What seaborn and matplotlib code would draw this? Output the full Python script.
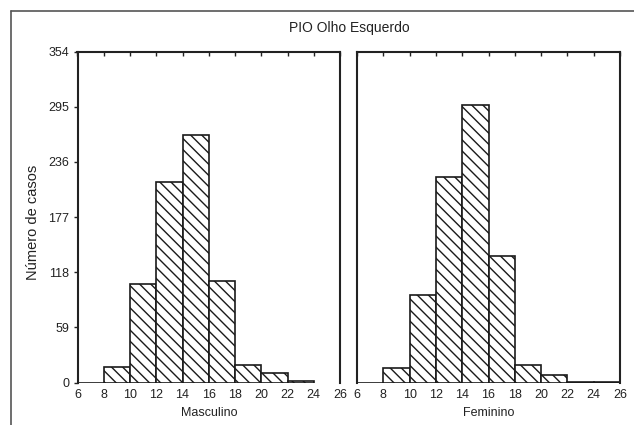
import numpy as np
import pandas as pd
import matplotlib
matplotlib.use("Agg")
import matplotlib.pyplot as plt
from matplotlib.lines import Line2D
import seaborn as sns

# ---- data ----
title = "PIO Olho Esquerdo"
ylabel = "Número de casos"
groups = ["Masculino", "Feminino"]
bin_left_masc = [6, 8, 10, 12, 14, 16, 18, 20, 22]
counts_masc = [0, 17, 105, 214, 265, 109, 19, 10, 2]
bin_left_fem = [6, 8, 10, 12, 14, 16, 18, 20, 22, 24]
counts_fem = [0, 16, 94, 220, 297, 135, 19, 8, 1, 1]
bin_width = 2
x_ticks = [6, 8, 10, 12, 14, 16, 18, 20, 22, 24, 26]
y_ticks = [0, 59, 118, 177, 236, 295, 354]

sns.set_theme(style="white")
plt.rcParams["font.family"] = ["Liberation Sans", "DejaVu Sans"]
plt.rcParams["hatch.linewidth"] = 1.0

W, H = 634, 425
fig = plt.figure(figsize=(W / 100, H / 100), dpi=100)

def fx(px):
    return px / W

def fy(py):
    return 1 - py / H

ax_top, ax_bot = 51.5, 382.5
panels = [(77.5, 340.0), (357.0, 620.0)]
datasets = [(bin_left_masc, counts_masc), (bin_left_fem, counts_fem)]

axes = []
for i, ((x0, x1), (lefts, counts), name) in enumerate(zip(panels, datasets, groups)):
    ax = fig.add_axes([fx(x0), fy(ax_bot), fx(x1 - x0), (ax_bot - ax_top) / H])
    df = pd.DataFrame({"x": np.array(lefts) + bin_width / 2, "n": counts})
    edges = list(lefts) + [lefts[-1] + bin_width]
    sns.histplot(data=df, x="x", weights="n", bins=edges, ax=ax,
                 color="white", edgecolor="#1a1a1a", linewidth=1.2,
                 hatch="\\\\\\", alpha=1, legend=False)
    ax.set_xlim(6, 26)
    ax.set_ylim(0, 354)
    ax.set_xticks(x_ticks)
    ax.set_yticks(y_ticks)
    ax.set_xlabel(name, fontsize=9, color="#222222", labelpad=4)
    ax.set_ylabel("")
    for s in ["left", "top", "right"]:
        ax.spines[s].set_visible(True)
        ax.spines[s].set_color("#222222")
        ax.spines[s].set_linewidth(1.5)
    ax.spines["bottom"].set_visible(False)
    ax.tick_params(axis="x", bottom=False, top=True, labelbottom=True,
                   direction="in", length=3, width=1, color="#222222",
                   labelsize=9, labelcolor="#222222", pad=5)
    if i == 0:
        ax.tick_params(axis="y", left=True, labelleft=True, direction="out",
                       length=3, width=1, color="#222222", labelsize=9,
                       labelcolor="#222222", pad=3)
    else:
        ax.tick_params(axis="y", left=False, labelleft=False)
    ax.grid(False)
    axes.append(ax)

fig.text(fx(33), fy(222), ylabel, rotation=90, ha="center", va="center",
         fontsize=10.5, color="#222222")
fig.text(fx(349), fy(28), title, ha="center", va="center", fontsize=10,
         color="#222222")

# outer frame (cut at right and bottom)
fig.add_artist(Line2D([fx(11), fx(11)], [fy(11), 0], color="#555555", lw=1.2))
fig.add_artist(Line2D([fx(11), 1], [fy(11), fy(11)], color="#555555", lw=1.2))

fig.savefig("out.png", dpi=100)
